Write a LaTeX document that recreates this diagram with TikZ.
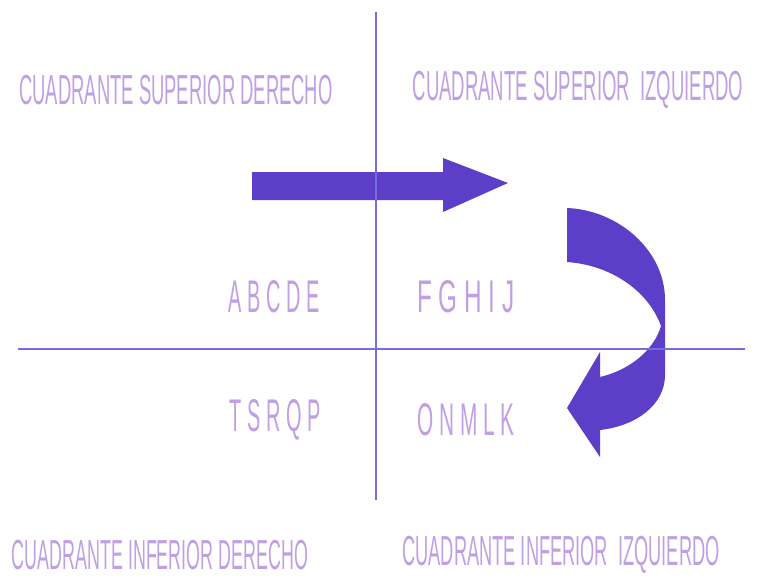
\documentclass[tikz,border=0pt]{standalone}
\usepackage{fontspec}
\setmainfont{Liberation Sans}
\definecolor{flecha}{RGB}{92,62,200}
\definecolor{eje}{RGB}{118,108,222}
\definecolor{letra}{RGB}{192,160,228}
\newcommand{\cuadtxt}[3]{\resizebox{#1}{#2}{#3}}

\begin{document}
\begin{tikzpicture}[x=0.75pt,y=-0.75pt]
    \useasboundingbox (0,0) rectangle (760,579);
    % flechas
    \fill[flecha] (252,172) -- (443,172) -- (443,158) -- (508,183) -- (443,212) -- (443,200) -- (252,200) -- cycle;
    \fill[flecha] (567,208) .. controls (618,210) and (665,250) .. (665,300) -- (665,375)
        .. controls (665,405) and (636,426) .. (600,430) -- (600,457) -- (567,408) -- (600,352) -- (600,377)
        .. controls (630,370) and (654,350) .. (661,326) .. controls (648,290) and (610,265) .. (567,262) -- cycle;
    % ejes
    \draw[eje,line width=1.5pt] (18,349) -- (745,349);
    \draw[eje,line width=1pt] (376,12) -- (376,500);
    % textos
    \node[letra] (supder) at (176,90) {\cuadtxt{235pt}{22pt}{CUADRANTE SUPERIOR DERECHO}};
    \node[letra] (supizq) at (578,90) {\cuadtxt{248pt}{22pt}{CUADRANTE SUPERIOR\ \ IZQUIERDO}};
    \node[letra] (abcde) at (274,297) {\cuadtxt{68pt}{24pt}{A B C D E}};
    \node[letra] (fghij) at (466,297) {\cuadtxt{73pt}{24pt}{F G H I J}};
    \node[letra] (tsrqp) at (275,420) {\cuadtxt{68pt}{24pt}{T S R Q P}};
    \node[letra] (onmlk) at (466,420) {\cuadtxt{73pt}{24pt}{O N M L K}};
    \node[letra] (infder) at (160,555) {\cuadtxt{222pt}{22pt}{CUADRANTE INFERIOR DERECHO}};
    \node[letra] (infizq) at (561,555) {\cuadtxt{238pt}{22pt}{CUADRANTE INFERIOR\ \ IZQUIERDO}};
\end{tikzpicture}
\end{document}
